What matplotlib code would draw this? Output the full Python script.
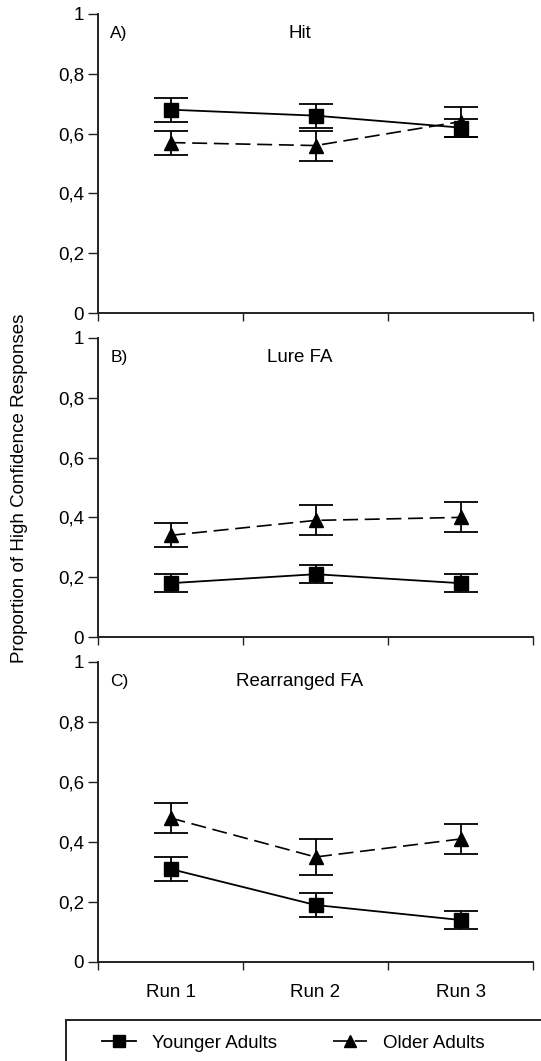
import matplotlib
matplotlib.use("Agg")
import matplotlib.pyplot as plt
from matplotlib.lines import Line2D
from matplotlib.patches import Rectangle

plt.rcParams['font.family'] = ['Liberation Sans', 'DejaVu Sans']
plt.rcParams['font.size'] = 13.5

runs = ['Run 1', 'Run 2', 'Run 3']
panels = ['A)', 'B)', 'C)']
titles = ['Hit', 'Lure FA', 'Rearranged FA']

younger = [[0.68, 0.66, 0.62],
           [0.18, 0.21, 0.18],
           [0.31, 0.19, 0.14]]
younger_err = [[0.04, 0.04, 0.03],
               [0.03, 0.03, 0.03],
               [0.04, 0.04, 0.03]]
older = [[0.57, 0.56, 0.64],
         [0.34, 0.39, 0.40],
         [0.48, 0.35, 0.41]]
older_err = [[0.04, 0.05, 0.05],
             [0.04, 0.05, 0.05],
             [0.05, 0.06, 0.05]]

yticks = [0, 0.2, 0.4, 0.6, 0.8, 1]
ytick_labels = ['0', '0,2', '0,4', '0,6', '0,8', '1']

W, H = 541, 1061
fig = plt.figure(figsize=(W / 100, H / 100), dpi=100)

# panel tops/bottoms in pixels
tops = [14, 338, 662]
bottoms = [313, 637, 962]
left, right = 98, 533

x = [1, 2, 3]
dash = (9, 4)
for i in range(3):
    ax = fig.add_axes([left / W, 1 - bottoms[i] / H, (right - left) / W,
                       (bottoms[i] - tops[i]) / H])
    ax.errorbar(x, younger[i], yerr=younger_err[i], color='black', lw=1.3,
                marker='s', ms=9.5, capsize=12, capthick=1.3, elinewidth=1.3)
    ax.errorbar(x, older[i], yerr=older_err[i], color='black', lw=1.2,
                ls=(0, dash), marker='^', ms=9.5, capsize=12, capthick=1.3,
                elinewidth=1.3)
    ax.set_xlim(0.5, 3.5)
    ax.set_ylim(0, 1)
    for s in ['top', 'right']:
        ax.spines[s].set_visible(False)
    for s in ['left', 'bottom']:
        ax.spines[s].set_linewidth(1.4)
        ax.spines[s].set_color('#222222')
    ax.set_yticks(yticks)
    ax.set_yticklabels(ytick_labels)
    ax.tick_params(axis='y', direction='out', length=7, width=1, pad=3,
                   color='#222222')
    ax.set_xticks([0.5, 1.5, 2.5, 3.5])
    ax.set_xticklabels([])
    ax.tick_params(axis='x', which='major', direction='out', length=6,
                   width=1, color='#222222')
    if i == 2:
        ax.set_xticks(x, minor=True)
        ax.set_xticklabels(runs, minor=True)
        ax.tick_params(axis='x', which='minor', length=0, pad=16)
    ax.text(0.028, 0.936, panels[i], transform=ax.transAxes, fontsize=12.5,
            ha='left', va='center')
    ax.text(0.464, 0.936, titles[i], transform=ax.transAxes, ha='center',
            va='center')

fig.text(20 / W, 1 - 488 / H, 'Proportion of High Confidence Responses',
         rotation=90, ha='center', va='center')

# legend box running off the bottom/right edge
fig.patches.append(Rectangle((66 / W, -0.05), 1.0, 0.05 + (H - 1020) / H,
                             transform=fig.transFigure, fill=False,
                             lw=1.4, ec='#222222'))
handles = [Line2D([], [], color='black', lw=1.3, marker='s', ms=9),
           Line2D([], [], color='black', lw=1.2, ls=(0, dash), marker='^',
                  ms=9)]
fig.legend(handles, ['Younger Adults', 'Older Adults'], ncol=2,
           loc='center left', bbox_to_anchor=(102 / W, 1 - 1043 / H),
           frameon=False, borderpad=0, borderaxespad=0, handlelength=1.8,
           handletextpad=0.85, columnspacing=3.0)

fig.savefig('out.png', dpi=100)
